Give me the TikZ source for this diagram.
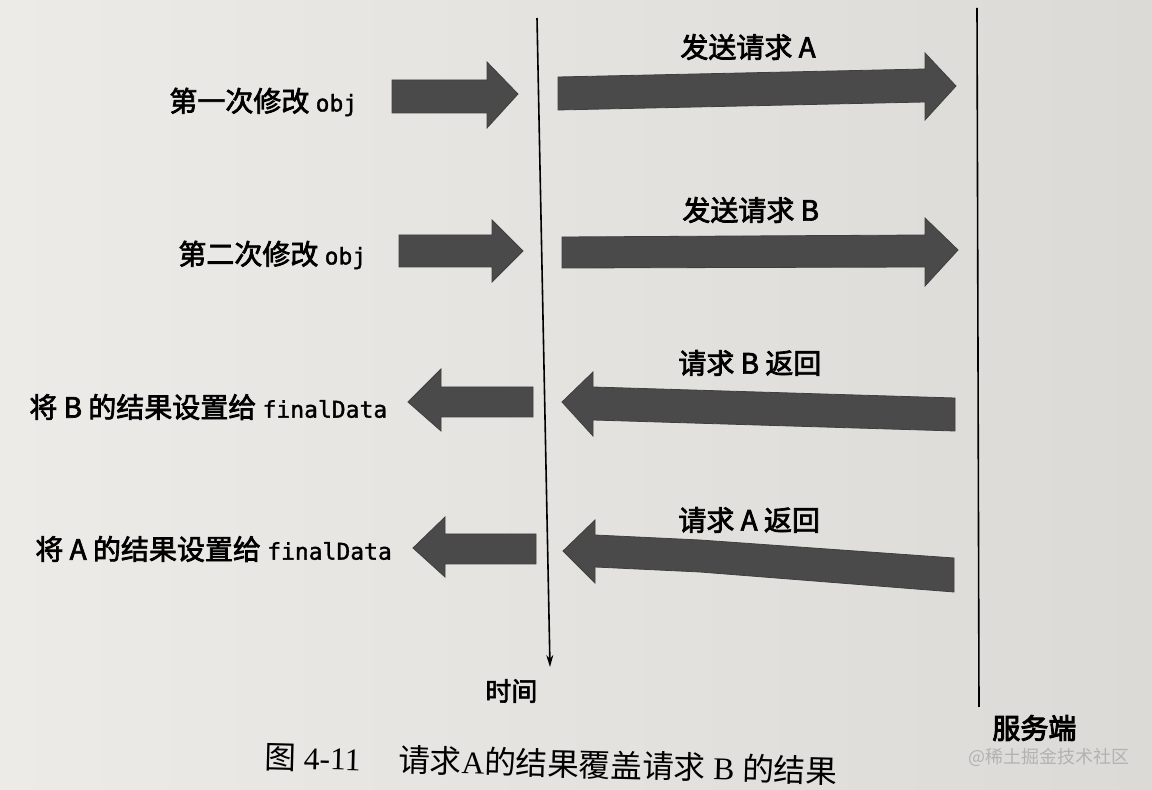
\documentclass[tikz,border=0pt]{standalone}
\usepackage{fontspec}
\setmainfont{Liberation Serif}
\newfontfamily\cjkfont{Noto Sans CJK SC}
\newfontfamily\cjkmed{Noto Sans CJK SC}[FakeBold=2.5]
\newfontfamily\cjkbold{Noto Sans CJK SC}[FakeBold=3.5]
\newfontfamily\monofam{DejaVu Sans Mono}[FakeBold=1.5]
\usetikzlibrary{arrows.meta}
\definecolor{arrowgray}{RGB}{74,74,74}
\definecolor{pagel}{RGB}{236,235,232}
\definecolor{pager}{RGB}{220,218,214}
\definecolor{wmgray}{RGB}{178,178,178}
\newcommand\mtxt[1]{{\monofam\fontsize{11.5}{13}\selectfont #1}}
\tikzset{
  blk/.style={fill=arrowgray, draw=arrowgray!85!black, line width=0.4pt},
  lbl/.style={anchor=west, inner sep=0pt, font=\cjkmed\fontsize{14}{16}\selectfont},
  axisline/.style={draw=black, line width=0.8pt},
}
\begin{document}
\begin{tikzpicture}[x=0.5pt,y=-0.5pt]
\useasboundingbox (0,0) rectangle (1152,790);
\shade[left color=pagel,right color=pager] (0,0) rectangle (1152,790);

% time axis and server line
\coordinate (ttop) at (537,18);
\coordinate (tbot) at (550,667);
\draw[axisline,-{Stealth[length=6pt,width=3.5pt]}] (ttop) -- (tbot);
\coordinate (stop) at (977,8);
\coordinate (sbot) at (979,707);
\draw[axisline] (stop) -- (sbot);

\node[lbl,font=\cjkmed\fontsize{13}{15}\selectfont] (time) at (485,691) {时间};
\node[lbl,font=\cjkbold\fontsize{14}{16}\selectfont] (server) at (992,728) {服务端};

% client-side arrows (right-pointing)
\path[blk] (392,80)--(487,80)--(487,62)--(518,94)--(487,128)--(487,113)--(392,113)--cycle;
\path[blk] (399,235)--(492,235)--(492,220)--(523,251)--(492,282)--(492,267)--(399,267)--cycle;
% requests to server
\path[blk] (558,77)--(925,69)--(925,53)--(956,86)--(925,120)--(925,102)--(558,110)--cycle;
\path[blk] (562,237)--(925,235)--(925,218)--(958,250)--(925,286)--(925,267)--(562,268)--cycle;
% responses from server
\path[blk] (562,402)--(593,372)--(593,387)--(955,398)--(955,431)--(593,420)--(593,436)--cycle;
\path[blk] (563,551)--(595,520)--(595,535)--(700,540)--(954,558)--(954,592)--(700,572)--(595,567)--(595,583)--cycle;
% client-side arrows (left-pointing)
\path[blk] (408,402)--(441,369)--(441,387)--(533,387)--(533,417)--(441,417)--(441,431)--cycle;
\path[blk] (413,548)--(445,517)--(445,534)--(536,534)--(536,564)--(445,564)--(445,577)--cycle;

% labels
\node[lbl] (m1) at (169,102) {第一次修改 \mtxt{obj}};
\node[lbl] (m2) at (178,255) {第二次修改 \mtxt{obj}};
\node[lbl] (sa) at (680,47) {发送请求 A};
\node[lbl] (sb) at (682,210) {发送请求 B};
\node[lbl] (rb) at (678,363) {请求 B 返回};
\node[lbl] (ra) at (678,520) {请求 A 返回};
\node[lbl] (fb) at (29,407) {将 B 的结果设置给 \mtxt{finalData}};
\node[lbl] (fa) at (35,549) {将 A 的结果设置给 \mtxt{finalData}};

% caption
\node[anchor=west, inner sep=0pt, rotate=-1.5, font=\fontsize{15.8}{18}\selectfont] (cap) at (264,756)
  {{\cjkfont 图} 4-11\hspace{1.2em}{\cjkfont 请求}A{\cjkfont 的结果覆盖请求} B {\cjkfont 的结果}};
% watermark
\node[anchor=west, inner sep=0pt, text=wmgray, font=\cjkfont\fontsize{9}{11}\selectfont] (wm) at (968,757) {@稀土掘金技术社区};
\end{tikzpicture}
\end{document}
